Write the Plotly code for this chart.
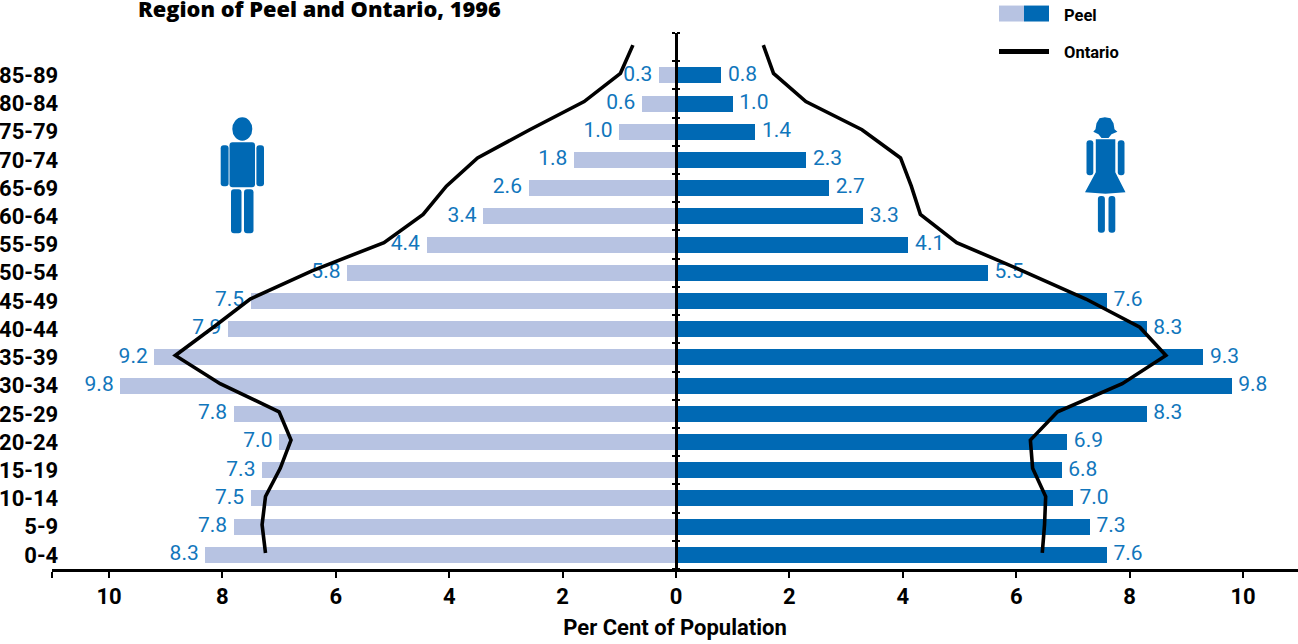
import plotly.graph_objects as go

W, H = 1298, 644
ML, MR, MT, MB = 52, 0, 32.5, 74.5

age_groups = ["0-4", "5-9", "10-14", "15-19", "20-24", "25-29", "30-34", "35-39", "40-44",
              "45-49", "50-54", "55-59", "60-64", "65-69", "70-74", "75-79", "80-84", "85-89"]
peel_male = [8.3, 7.8, 7.5, 7.3, 7.0, 7.8, 9.8, 9.2, 7.9, 7.5, 5.8, 4.4, 3.4, 2.6, 1.8, 1.0, 0.6, 0.3]
peel_female = [7.6, 7.3, 7.0, 6.8, 6.9, 8.3, 9.8, 9.3, 8.3, 7.6, 5.5, 4.1, 3.3, 2.7, 2.3, 1.4, 1.0, 0.8]
# Ontario has one more (open-ended, unlabelled) age group on top
ontario_male = [7.24, 7.3, 7.24, 6.98, 6.79, 7.0, 8.04, 8.83, 8.16, 7.51, 6.42, 5.15, 4.46, 4.05, 3.5, 2.58, 1.62, 0.98, 0.76]
ontario_female = [6.46, 6.5, 6.52, 6.29, 6.25, 6.73, 7.87, 8.64, 8.18, 7.23, 6.11, 4.95, 4.31, 4.15, 3.96, 3.28, 2.29, 1.72, 1.54]
x_tick_values = [-10, -8, -6, -4, -2, 0, 2, 4, 6, 8, 10]

LIGHT, BLUE, LABEL, BLACK = "#b7c3e2", "#0069b4", "#1176bc", "#000000"
NARROW = "Roboto"

idx = list(range(len(age_groups)))
line_y = [i + 0.07 for i in range(len(ontario_male))]
bar_w = 16 / 28.235


fig = go.Figure()
for vals, color, sign, pos in [(peel_male, LIGHT, -1, "middle left"), (peel_female, BLUE, 1, "middle right")]:
    fig.add_trace(go.Bar(y=idx, x=[sign * v for v in vals], orientation="h", width=bar_w,
                         marker=dict(color=color, line=dict(width=0)), showlegend=False))
    fig.add_trace(go.Scatter(y=idx, x=[sign * v for v in vals], mode="markers+text", showlegend=False,
                             marker=dict(size=9, opacity=0), text=[f"{v:.1f}" for v in vals], textposition=pos,
                             cliponaxis=False, textfont=dict(family=NARROW, size=21, color=LABEL)))
for series, sign in ((ontario_male, -1), (ontario_female, 1)):
    fig.add_trace(go.Scatter(x=[sign * v for v in series], y=line_y,
                             mode="lines", line=dict(color=BLACK, width=3.6), showlegend=False))
# Dummy traces that bring the extra y axes into existence
fig.add_trace(go.Scatter(x=[0], y=[0], yaxis="y2", mode="markers", marker=dict(opacity=0), showlegend=False, hoverinfo="skip"))
fig.add_trace(go.Scatter(x=[0], y=[0], yaxis="y3", mode="markers", marker=dict(opacity=0), showlegend=False, hoverinfo="skip"))

ZERO_PX = 676
x_scale = 56.7
x_min = -(ZERO_PX - ML) / x_scale
x_max = (W - MR - ZERO_PX) / x_scale
zero_pos = (ZERO_PX - ML) / (W - ML - MR)
y_range = [-0.5, 18.5]
boundaries = [i - 0.5 for i in range(20)]


def px(x):
    return (x - ML) / (W - ML - MR)


def py(y):
    return 1 - (y - MT) / (H - MT - MB)


def round_rect(x0, x1, y0, y1, r):
    return (f"M{px(x0 + r)},{py(y0)} L{px(x1 - r)},{py(y0)} Q{px(x1)},{py(y0)} {px(x1)},{py(y0 + r)} "
            f"L{px(x1)},{py(y1 - r)} Q{px(x1)},{py(y1)} {px(x1 - r)},{py(y1)} L{px(x0 + r)},{py(y1)} "
            f"Q{px(x0)},{py(y1)} {px(x0)},{py(y1 - r)} L{px(x0)},{py(y0 + r)} Q{px(x0)},{py(y0)} {px(x0 + r)},{py(y0)} Z")


def poly(points):
    return "M" + " L".join(f"{px(a)},{py(b)}" for a, b in points) + " Z"


icon = dict(type="path", xref="paper", yref="paper", fillcolor=BLUE, line=dict(width=0), layer="above")
shapes = []
# man
shapes.append(dict(type="circle", xref="paper", yref="paper", fillcolor=BLUE, line=dict(width=0), layer="above",
                   x0=px(232.3), x1=px(252.3), y0=py(140.5), y1=py(117)))
for box in [(229.5, 255, 142, 187, 3), (220.7, 228.6, 145, 186, 3), (256.4, 264, 145, 186, 3),
            (231, 241.5, 189, 233, 3), (244, 253.5, 189, 233, 3)]:
    shapes.append(dict(icon, path=round_rect(*box)))
# woman
shapes.append(dict(icon, path=poly([(1104.9, 117), (1099.5, 118), (1096.5, 123), (1095.5, 129), (1093.3, 131.5), (1098.5, 134),
                                    (1101.5, 137.7), (1108.5, 137.7), (1111.5, 134), (1117.4, 131.5), (1114.5, 129),
                                    (1113.5, 123), (1110.5, 118)])))
shapes.append(dict(icon, path=poly([(1095.8, 139), (1115.3, 139), (1115.3, 172), (1125.5, 192), (1105.5, 193.5),
                                    (1085, 192), (1095.8, 172)])))
for box in [(1086.5, 1093.3, 140, 175, 3), (1117.8, 1124.5, 140, 175, 3),
            (1097.9, 1104.9, 195.7, 232.7, 3), (1108.5, 1115.3, 195.7, 232.7, 3)]:
    shapes.append(dict(icon, path=round_rect(*box)))
# legend keys
for x0, x1, c in [(999, 1024, LIGHT), (1024, 1049, BLUE)]:
    shapes.append(dict(type="rect", xref="paper", yref="paper", x0=px(x0), x1=px(x1), y0=py(21), y1=py(5),
                       fillcolor=c, line=dict(width=0)))
shapes.append(dict(type="line", xref="paper", yref="paper", x0=px(999), x1=px(1049), y0=py(51), y1=py(51),
                   line=dict(color=BLACK, width=5)))

annotations = [
    dict(text=t, xref="paper", yref="paper", x=px(1062), y=py(y), xanchor="left", yanchor="middle",
         showarrow=False, font=dict(family=NARROW, size=16.5, color=BLACK, weight="bold"))
    for t, y in [("Peel", 15), ("Ontario", 52)]
]

axis_font = dict(family=NARROW, size=22, color=BLACK, weight="bold")
fig.update_layout(
    width=W, height=H, margin=dict(l=ML, r=MR, t=MT, b=MB, pad=0), paper_bgcolor="white", plot_bgcolor="white",
    barmode="overlay", bargap=0, shapes=shapes, annotations=annotations,
    title=dict(text="Region of Peel and Ontario, 1996", x=138 / W, xref="container", xanchor="left",
               y=1 - 9.5 / H, yref="container", yanchor="middle", pad=dict(l=0, r=0, t=0, b=0),
               font=dict(family="Open Sans", size=21.8, color=BLACK, weight=800)),
    xaxis=dict(range=[x_min, x_max], tickmode="array", tickvals=x_tick_values + [x_min],
               ticktext=[str(abs(v)) for v in x_tick_values] + [""],
               ticks="outside", ticklen=6, tickwidth=2, tickcolor=BLACK, showline=True, linecolor=BLACK, linewidth=2.5,
               showgrid=False, zeroline=False, tickfont=axis_font,
               title=dict(text="Per Cent of Population", font=dict(family=NARROW, size=22, color=BLACK, weight="bold"), standoff=12)),
    yaxis=dict(range=y_range, tickmode="array", tickvals=idx, ticktext=age_groups, anchor="free", position=0.005,
               ticks="", showline=False, showgrid=False, zeroline=False, tickfont=axis_font),
    yaxis2=dict(range=y_range, overlaying="y", anchor="free", position=zero_pos, side="left", tickmode="array",
                tickvals=boundaries, ticktext=[""] * 20, ticks="outside", ticklen=3, tickwidth=2, tickcolor=BLACK,
                showline=True, linecolor=BLACK, linewidth=2.5, showgrid=False, zeroline=False),
    yaxis3=dict(range=y_range, overlaying="y", anchor="free", position=zero_pos, side="right", tickmode="array",
                tickvals=boundaries, ticktext=[""] * 20, ticks="outside", ticklen=3, tickwidth=2, tickcolor=BLACK,
                showline=False, showgrid=False, zeroline=False),
)
fig.write_html("out.html", config=dict(displayModeBar=False),
               post_script="document.body.style.margin='0';document.body.style.overflow='hidden';")
